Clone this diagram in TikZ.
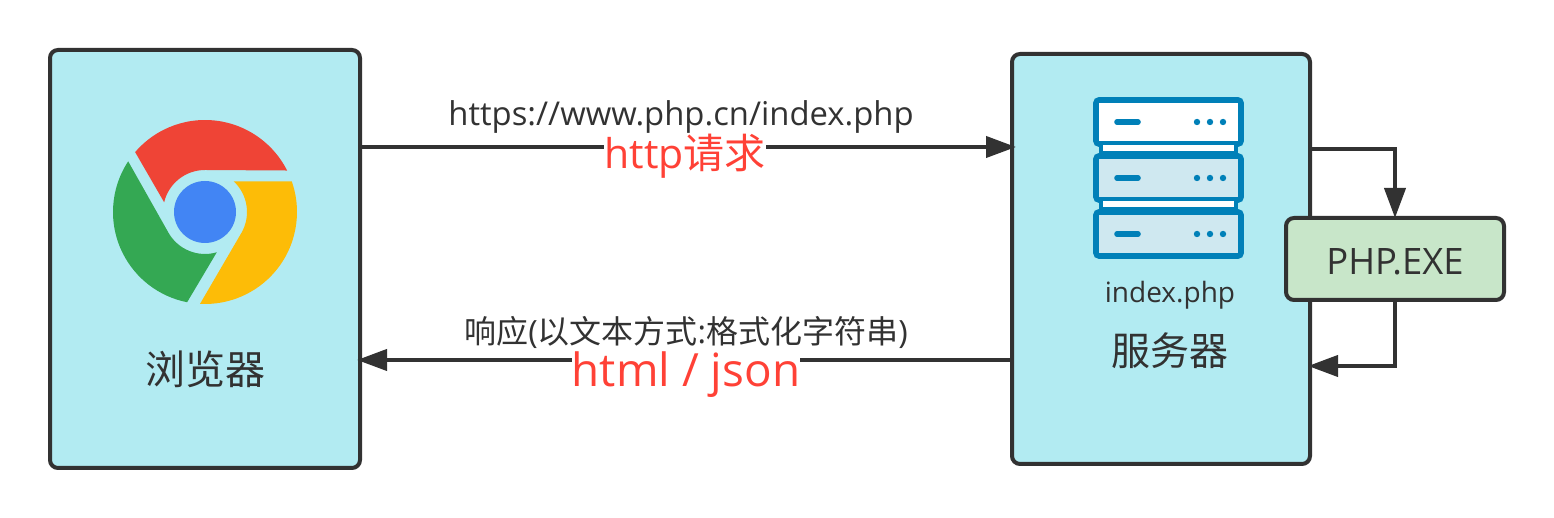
\documentclass[tikz,border=0pt]{standalone}
\usepackage{fontspec}
\usepackage{tikz}
\usetikzlibrary{arrows.meta}
\setmainfont{Open Sans}
\newfontfamily\cjk{Noto Sans CJK SC}
\definecolor{linedark}{HTML}{323232}
\definecolor{panelblue}{HTML}{B2EBF2}
\definecolor{panelgreen}{HTML}{C8E6C9}
\definecolor{labelred}{HTML}{FF4136}
\definecolor{iconblue}{HTML}{0080B8}
\definecolor{iconpale}{HTML}{CFE8F0}
\definecolor{logored}{HTML}{EF4436}
\definecolor{logoyellow}{HTML}{FDBC07}
\definecolor{logogreen}{HTML}{34A853}
\definecolor{logoblue}{HTML}{4285F4}
\tikzset{
  panel/.style={shape=rectangle,draw=linedark,line width=2pt,rounded corners=4pt,outer sep=0pt,inner sep=0pt,text=linedark},
  link/.style={draw=linedark,line width=2pt},
  tip/.style={-{Triangle[length=15pt,width=10.5pt]}},
  caption/.style={text=linedark,inner sep=0pt},
  redtag/.style={text=labelred,fill=white,inner sep=0pt}
}

\begin{document}
\begin{tikzpicture}[x=0.5pt,y=0.5pt]
  \useasboundingbox (0,0) rectangle (1554,518);
  \node[panel,fill=panelblue,minimum width=155pt,minimum height=209pt] (browser) at (205,259) {};
  \node[panel,fill=panelblue,minimum width=149pt,minimum height=205pt] (server) at (1161,259) {};
  \node[panel,fill=panelgreen,minimum width=109pt,minimum height=41pt,text height=16pt,text depth=0pt,font=\fontsize{18.2}{20}\selectfont] (phpexe) at (1395,259) {PHP.EXE};
  % browser logo
  \begin{scope}[shift={(205,306)}]
    \fill[logored] (139.4:92) arc[start angle=139.4,end angle=26.8,radius=92] -- (0,42) arc[start angle=90,end angle=166.6,radius=42] -- cycle;
    \fill[logoyellow] (19.4:92) arc[start angle=19.4,end angle=-93.1,radius=92] -- (-30:42) arc[start angle=-30,end angle=47,radius=42] -- cycle;
    \fill[logogreen] (146.6:92) arc[start angle=146.6,end angle=258.8,radius=92] -- (286.3:42) arc[start angle=286.3,end angle=210,radius=42] -- cycle;
    \fill[logoblue] (0,0) circle[radius=31];
  \end{scope}
  % server icon
  \foreach \ytop/\shade in {418/white,362/iconpale,306/iconpale} {
    \draw[iconblue,line width=2.8pt,rounded corners=1.5pt,fill=\shade] (1096,\ytop) rectangle (1241,\ytop-44);
    \draw[iconblue,line width=2.8pt,line cap=round] (1117,\ytop-22) -- (1138,\ytop-22);
    \foreach \xdot in {1197,1210,1223} \fill[iconblue] (\xdot,\ytop-22) circle[radius=3.2];
  }
  \foreach \ytop in {375,319} {
    \draw[iconblue,line width=2.2pt,fill=white] (1101,\ytop) rectangle (1236,\ytop-10);
  }
  % links
  \draw[link,tip] ([yshift=56pt]browser.east) -- ([yshift=56pt,xshift=2pt]server.west);
  \draw[link,tip] ([yshift=-50.5pt]server.west) -- ([yshift=-50.5pt,xshift=-1.5pt]browser.east);
  \draw[link,tip] ([yshift=55pt]server.east) -| (phpexe.north);
  \draw[link,tip] (phpexe.south) |- ([yshift=-53.5pt,xshift=-1pt]server.east);
  % labels
  \node[redtag,font=\fontsize{20.5}{24}\selectfont] (reqtag) at (685,362) {http{\cjk 请求}};
  \node[redtag,font=\fontsize{22.9}{28}\selectfont] (restag) at (686,143) {html / json};
  \node[caption,font=\fontsize{16.4}{18}\selectfont] (url) at (681,401) {https://www.php.cn/index.php};
  \node[caption,font=\fontsize{16}{18}\selectfont] (resp) at (686,186) {{\cjk 响应}({\cjk 以文本方式}:{\cjk 格式化字符串})};
  \node[caption,font=\fontsize{20}{24}\selectfont\cjk] (browsername) at (205,149) {浏览器};
  \node[caption,font=\fontsize{19.5}{24}\selectfont\cjk] (servername) at (1170,167) {服务器};
  \node[caption,font=\fontsize{14}{17}\selectfont] (script) at (1170,223) {index.php};
\end{tikzpicture}
\end{document}
